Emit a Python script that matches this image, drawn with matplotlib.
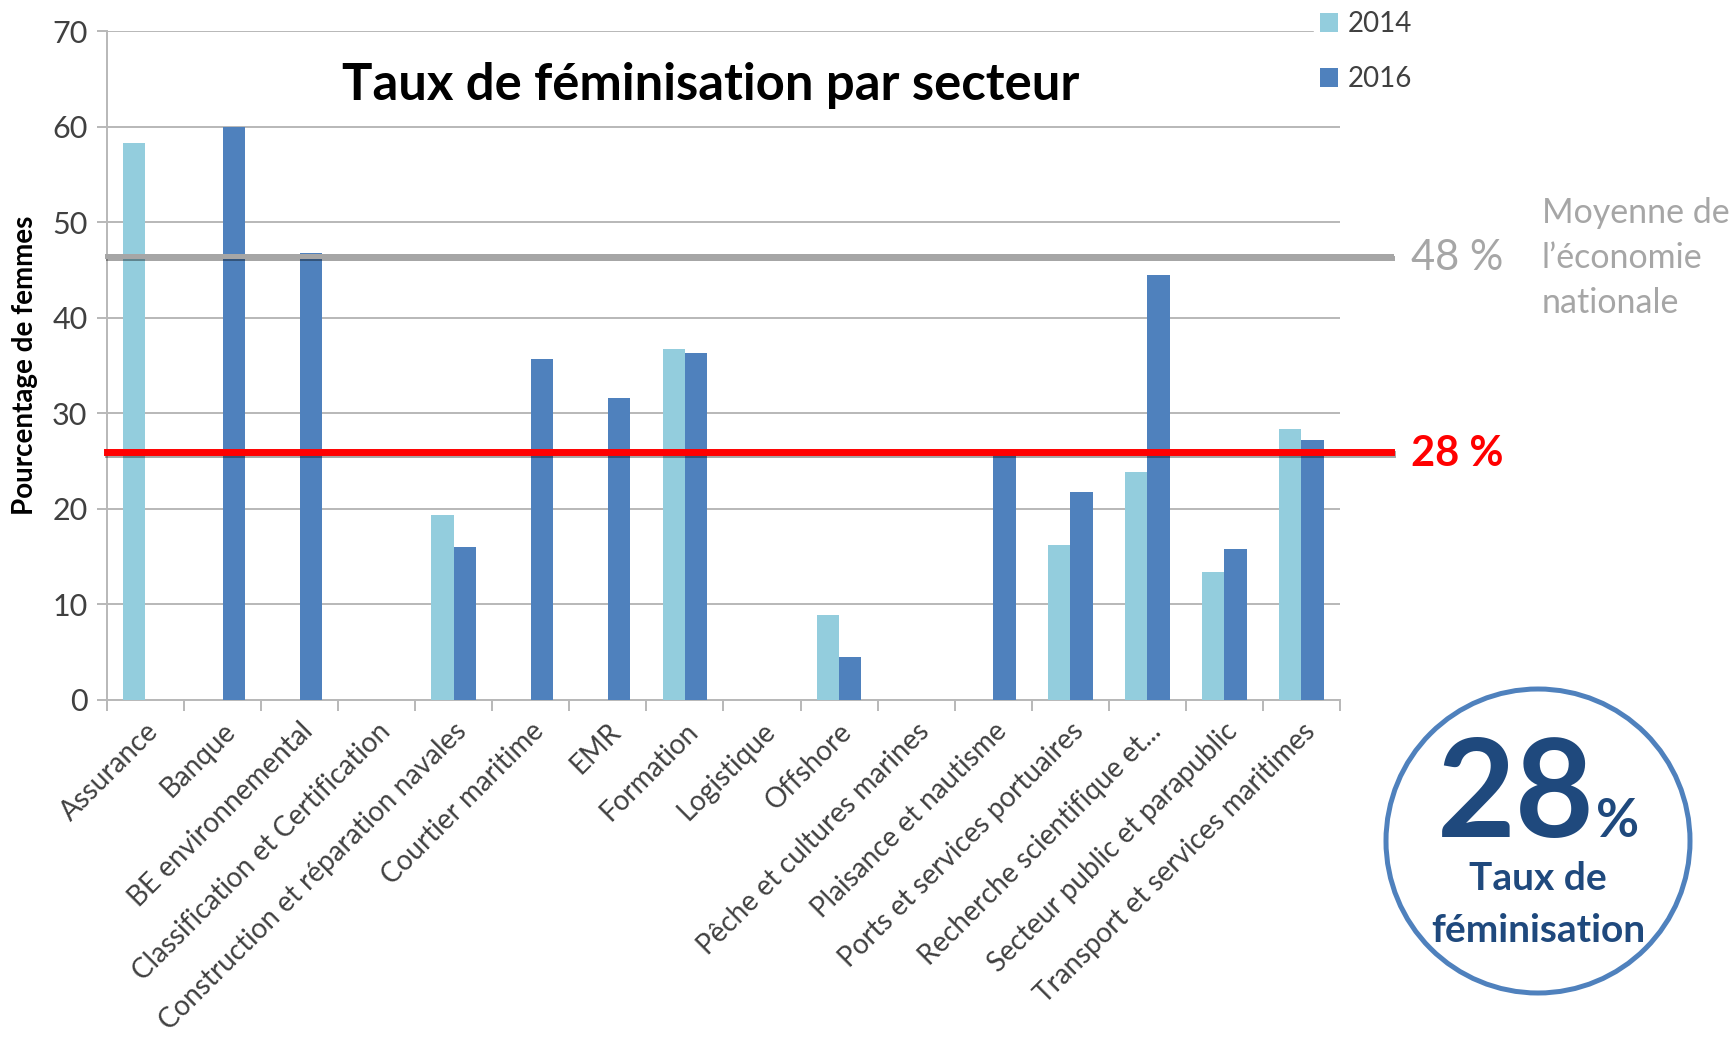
import numpy as np
import matplotlib.pyplot as plt
from matplotlib.patches import Circle
import matplotlib.patheffects as pe

plt.rcParams['font.family'] = ['Lato', 'DejaVu Sans']

# Sectors and share of women (%) for each year, 0 = no data
sectors = [
    "Assurance", "Banque", "BE environnemental", "Classification et Certification",
    "Construction et réparation navales", "Courtier maritime", "EMR", "Formation",
    "Logistique", "Offshore", "Pêche et cultures marines", "Plaisance et nautisme",
    "Ports et services portuaires", "Recherche scientifique et...",
    "Secteur public et parapublic", "Transport et services maritimes",
]
values_2014 = [58.3, 0, 0, 0, 19.4, 0, 0, 36.7, 0, 8.9, 0, 0, 16.2, 23.9, 13.4, 28.4]
values_2016 = [0, 60.0, 46.8, 0, 16.0, 35.7, 31.6, 36.3, 0, 4.5, 0, 26.1, 21.8, 44.5, 15.8, 27.2]
years = ["2014", "2016"]
yticks = [0, 10, 20, 30, 40, 50, 60, 70]

# Reference lines (drawn level) and their labels
national_line = 46.5
national_label = "48 %"
sector_line = 26.0
sector_label = "28 %"

c2014 = "#93cddd"
c2016 = "#4f81bd"
navy = "#1f497d"
grey = "#a6a6a6"

fig = plt.figure(figsize=(17.36, 10.41), dpi=100)
ax = fig.add_axes([0.0616, 0.3276, 0.7103, 0.6426])

x = np.arange(len(sectors))
w = 0.29
ax.bar(x - w / 2, values_2014, w, color=c2014, label=years[0], zorder=3)
ax.bar(x + w / 2, values_2016, w, color=c2016, label=years[1], zorder=3)

ax.set_xlim(-0.5, len(sectors) - 0.5)
ax.set_ylim(0, 70)
ax.set_yticks(yticks)
ax.yaxis.grid(True, color="#b8b8b8", lw=1.4, zorder=0)
ax.set_axisbelow(True)
for s in ["top", "right"]:
    ax.spines[s].set_visible(False)
for s in ["left", "bottom"]:
    ax.spines[s].set_color("#b8b8b8")
    ax.spines[s].set_linewidth(1.4)

ax.set_xticks(x)
ax.set_xticklabels(sectors, rotation=45, ha="right", rotation_mode="anchor",
                   fontsize=20, color="#404040")
ax.tick_params(axis="x", length=0, pad=13)
ax.set_xticks(np.arange(-0.5, len(sectors)), minor=True)
ax.tick_params(axis="x", which="minor", length=8, color="#b8b8b8", width=1.4)
ax.tick_params(axis="y", labelsize=22, labelcolor="#404040", length=7,
               color="#b8b8b8", width=1.4, pad=7)

ax.set_ylabel("Pourcentage de femmes", fontsize=20, fontweight="bold", labelpad=10)

# average lines, running past the right edge of the plot
ax.axhline(national_line, xmin=0, xmax=1.041, color=grey, lw=3.6, clip_on=False, zorder=4,
           path_effects=[pe.SimpleLineShadow(offset=(1, -1.5), alpha=0.35), pe.Normal()])
ax.axhline(sector_line, xmin=0, xmax=1.041, color="#ff0000", lw=5, clip_on=False, zorder=4,
           path_effects=[pe.SimpleLineShadow(offset=(1, -1.5), alpha=0.35), pe.Normal()])

fig.text(0.813, 0.752, national_label, color=grey, fontsize=30, va="center", ha="left")
fig.text(0.813, 0.564, sector_label, color="#ff0000", fontsize=30, fontweight="bold",
         va="center", ha="left")
fig.text(0.888, 0.752, "Moyenne de\nl’économie\nnationale", color=grey, fontsize=24.5,
         va="center", ha="left", linespacing=1.5)

ax.set_title("Taux de féminisation par secteur", fontsize=36.5, fontweight="bold",
             x=0.49, y=0.885)

leg = ax.legend(loc="upper left", bbox_to_anchor=(0.749, 1.008), bbox_transform=fig.transFigure,
                frameon=True, facecolor="white", edgecolor="white", framealpha=1,
                fontsize=20, handlelength=0.65, handleheight=0.65, handletextpad=0.35,
                labelspacing=1.05, borderpad=0.2)
for t in leg.get_texts():
    t.set_color("#404040")

# badge
circ = Circle((15.38, 2.00), 1.52, transform=fig.dpi_scale_trans, fill=False,
              edgecolor=c2016, lw=3.6)
fig.patches.append(circ)
fig.text(0.9185, 0.196, "28", color=navy, fontsize=98, fontweight="bold",
         ha="right", va="baseline")
fig.text(0.9195, 0.196, "%", color=navy, fontsize=38, fontweight="bold",
         ha="left", va="baseline")
fig.text(0.886, 0.145, "Taux de", color=navy, fontsize=28, fontweight="bold",
         ha="center", va="baseline")
fig.text(0.886, 0.095, "féminisation", color=navy, fontsize=28, fontweight="bold",
         ha="center", va="baseline")

fig.savefig("out.png", dpi=100)
